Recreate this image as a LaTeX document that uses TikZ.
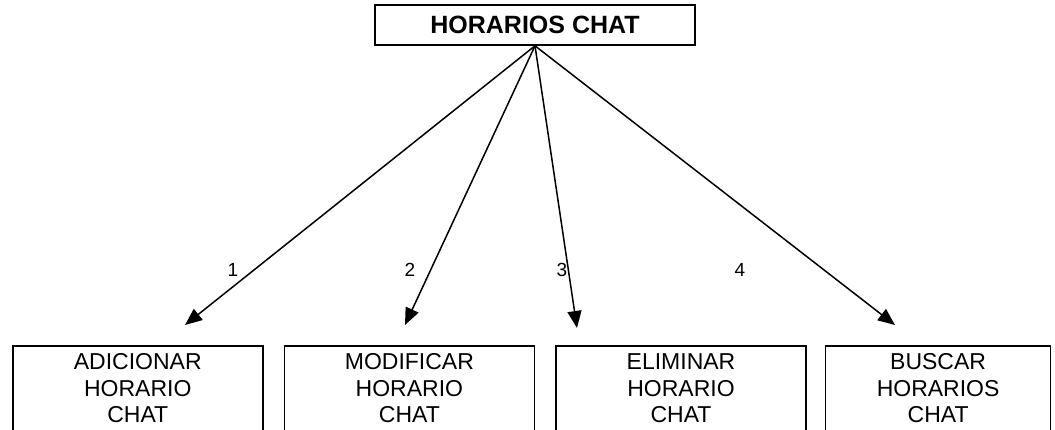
\documentclass[tikz,border=0pt]{standalone}
\usepackage{fontspec}
\setmainfont{Liberation Sans}
\usetikzlibrary{arrows.meta,positioning}

\begin{document}
\begin{tikzpicture}[x=1pt, y=1pt,
        node distance=20pt,
        mainbox/.style={rectangle, draw, line width=1.6pt, minimum width=320pt, minimum height=40pt, font=\fontsize{25}{28}\selectfont\bfseries},
        opbox/.style={rectangle, draw, line width=1.6pt, minimum width=250pt, inner ysep=8pt, text depth=20pt, align=center, font=\fontsize{23}{26.5}\selectfont},
        arrow/.style={-{Triangle[length=17pt,width=14pt]}, line width=1.5pt},
        num/.style={font=\fontsize{19}{22}\selectfont},
    ]
        \useasboundingbox (0,0) rectangle (1055,-430);

        \node[mainbox] (chat) at (535,-25) {HORARIOS CHAT};
        \node[opbox, anchor=north west] (add) at (12,-345) {ADICIONAR\\HORARIO\\CHAT};
        \node[opbox, right=of add] (mod) {MODIFICAR\\HORARIO\\CHAT};
        \node[opbox, right=of mod] (del) {ELIMINAR\\HORARIO\\CHAT};
        \node[opbox, right=18pt of del, minimum width=225pt] (find) {BUSCAR\\HORARIOS\\CHAT};

        \coordinate (t1) at (185,-325);
        \coordinate (t2) at (405,-325);
        \coordinate (t3) at (577,-328);
        \coordinate (t4) at (895,-325);

        \draw[arrow] (chat.south) -- (t1);
        \draw[arrow] (chat.south) -- (t2);
        \draw[arrow] (chat.south) -- (t3);
        \draw[arrow] (chat.south) -- (t4);

        \node[num] (n1) at (233,-270) {1};
        \node[num] (n2) at (410,-270) {2};
        \node[num] (n3) at (562,-270) {3};
        \node[num] (n4) at (740,-270) {4};

    \end{tikzpicture}
\end{document}
